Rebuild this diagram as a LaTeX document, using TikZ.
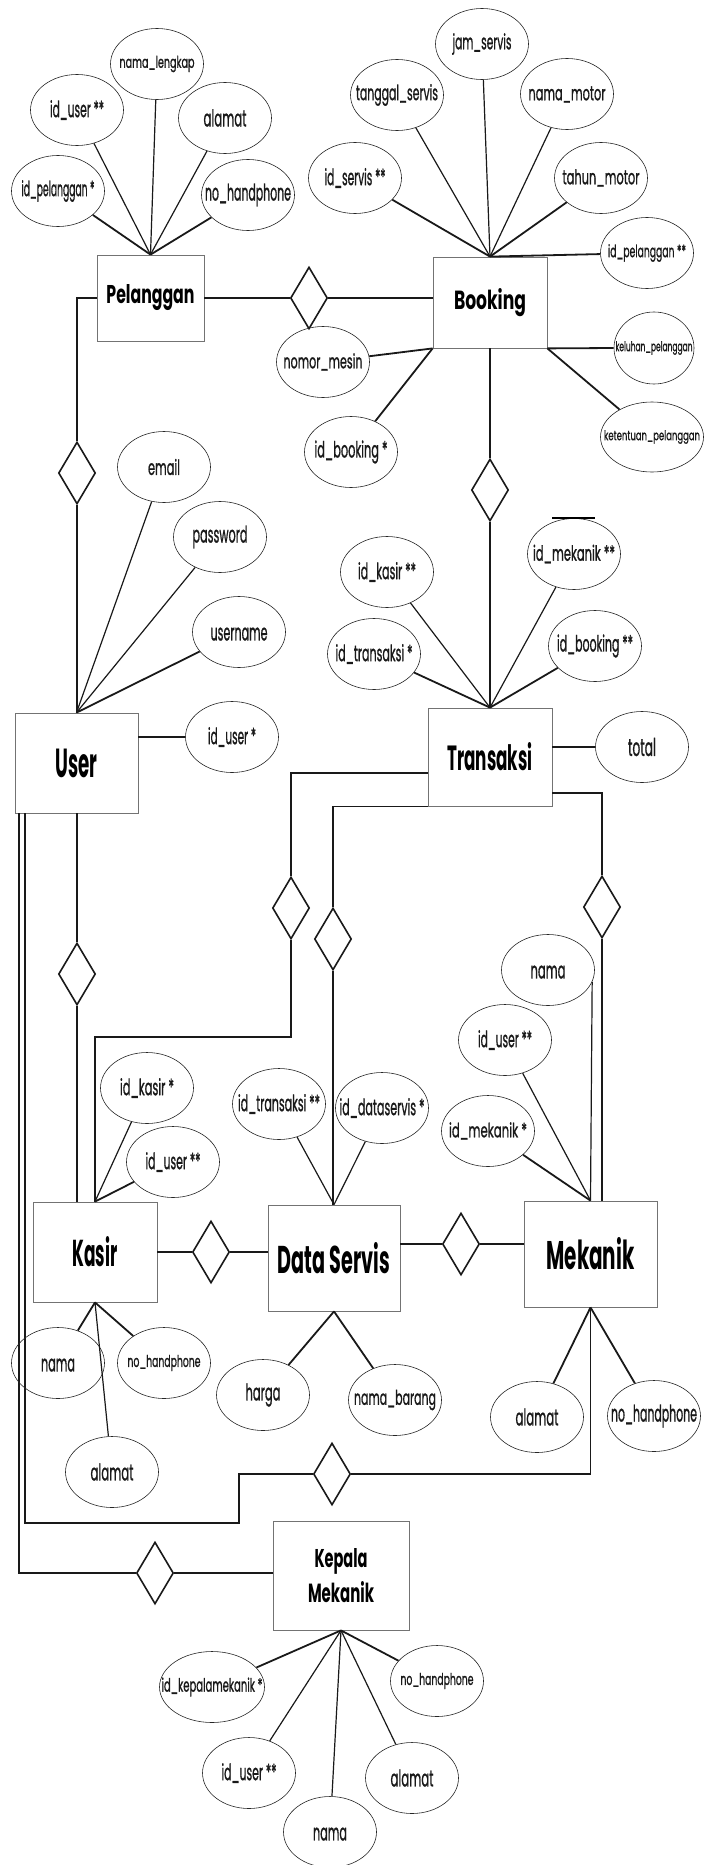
\documentclass[tikz,border=0pt]{standalone}
\usepackage{fontspec}
\setmainfont{Poppins}
\newfontfamily\attrfont{Poppins}[FakeBold=1.3]
\usepackage{graphicx}
\usetikzlibrary{shapes.geometric}
\newcommand\lbl[3]{\resizebox{#1pt}{#2pt}{\attrfont #3\vphantom{d}}}
\newcommand\elbl[3]{\resizebox{#1pt}{#2pt}{\bfseries #3\vphantom{d}}}
\tikzset{
  ent/.style={draw=black!55, line width=0.8pt, fill=white, inner sep=0pt},
  attr/.style={ellipse, draw=black!85, line width=0.6pt, inner sep=0pt,
    minimum width=93pt, minimum height=71pt,
    label={[inner sep=0pt, text=black!90]center:#1}},
  rel/.style={diamond, draw=black!90, line width=1.6pt, inner sep=0pt,
    minimum width=37pt, minimum height=62pt},
  alink/.style={line width=1.2pt, draw=black!90},
  blink/.style={line width=1.8pt, draw=black!90},
  rlink/.style={line width=1.8pt, draw=black!90}
}
\begin{document}
\begin{tikzpicture}[x=1pt,y=-1pt]
\useasboundingbox (0,0) rectangle (720,1865);
% ---------------- entities
\node[ent, minimum width=107pt, minimum height=86pt] (P) at (150.5,298) {\elbl{88}{19}{Pelanggan}};
\node[ent, minimum width=114pt, minimum height=91pt] (B) at (490,302.5) {\elbl{72}{21}{Booking}};
\node[ent, minimum width=123pt, minimum height=100pt] (U) at (76.5,763) {\elbl{42}{30}{User}};
\node[ent, minimum width=124pt, minimum height=98pt] (T) at (490,757) {\elbl{85}{28}{Transaksi}};
\node[ent, minimum width=124pt, minimum height=100pt] (K) at (95,1252) {\elbl{45}{30}{Kasir}};
\node[ent, minimum width=132pt, minimum height=106pt] (DS) at (334,1258) {\elbl{112}{31}{Data Servis}};
\node[ent, minimum width=133pt, minimum height=106pt] (M) at (590.5,1254) {\elbl{88}{32}{Mekanik}};
\node[ent, minimum width=136pt, minimum height=109pt, align=center] (KM) at (341,1575.5) {\elbl{53}{19}{Kepala}\\[6pt]\elbl{66}{21}{Mekanik}};
% ---------------- relationships
\node[rel] (d1) at (309,298) {};
\node[rel] (d2) at (77,473) {};
\node[rel] (d3) at (490,490) {};
\node[rel] (d4) at (77,974) {};
\node[rel] (d5) at (291,908) {};
\node[rel] (d6) at (333,939) {};
\node[rel] (d7) at (602,907) {};
\node[rel] (d8) at (211,1252) {};
\node[rel] (d9) at (461,1244) {};
\node[rel] (d10) at (332,1474) {};
\node[rel] (d11) at (155,1573) {};
\coordinate (u1) at ([xshift=10pt]U.south west);
\coordinate (u2) at ([xshift=4pt]U.south west);
\draw[rlink] (P.east) -- (d1.west);
\draw[rlink] (d1.east) -- (d1.east -| B.west);
\draw[rlink] (P.west) -| (d2.north);
\draw[rlink] (d2.south) -- (d2.south |- U.north);
\draw[rlink] (B.south) -- (d3.north);
\draw[rlink] (d3.south) -- (T.north);
\draw[rlink] (d4.north |- U.south) -- (d4.north);
\draw[rlink] (d4.south) -- (d4.south |- K.north);
\draw[rlink] (T.west |- 0,773) -| (d5.north);
\draw[rlink] (d5.south) |- (K.north |- 0,1037) -- (K.north);
\draw[rlink] (T.south west) -| (d6.north);
\draw[rlink] (d6.south) -- (d6.south |- DS.north);
\draw[rlink] (T.east |- 0,793) -| (d7.north);
\draw[rlink] (d7.south) -- (d7.south |- M.north);
\draw[rlink] (K.east) -- (d8.west);
\draw[rlink] (d8.east) -- (d8.east -| DS.west);
\draw[rlink] (d9.west -| DS.east) -- (d9.west);
\draw[rlink] (d9.east) -- (d9.east -| M.west);
\draw[rlink] (M.south) |- (d10.east);
\draw[rlink] (d10.west) -| (239,1523) -| (u1);
\draw[rlink] (u2) |- (d11.west);
\draw[rlink] (d11.east) -- (d11.east -| KM.west);
% ---------------- Pelanggan attributes
\node[attr={\lbl{75}{12}{nama\_lengkap}}] (pa1) at (157,64) {};
\node[attr={\lbl{54}{17}{id\_user **}}] (pa2) at (77,110) {};
\node[attr={\lbl{43}{17}{alamat}}] (pa3) at (225,118) {};
\node[attr={\lbl{73}{16}{id\_pelanggan *}}] (pa4) at (58,191) {};
\node[attr={\lbl{86}{17}{no\_handphone}}] (pa5) at (248,195) {};
\draw[alink] (pa1) -- (P.north);
\draw[alink] (pa2) -- (P.north);
\draw[alink] (pa3) -- (P.north);
\draw[blink] (pa4) -- (P.north);
\draw[blink] (pa5) -- (P.north);
% ---------------- Booking attributes
\node[attr={\lbl{59}{16}{jam\_servis}}] (ba1) at (482,44) {};
\node[attr={\lbl{82}{16}{tanggal\_servis}}] (ba2) at (397,95) {};
\node[attr={\lbl{77}{15}{nama\_motor}}] (ba3) at (567,94) {};
\node[attr={\lbl{61}{17}{id\_servis **}}] (ba4) at (355,178) {};
\node[attr={\lbl{77}{15}{tahun\_motor}}] (ba5) at (601,178) {};
\node[attr={\lbl{78}{13}{id\_pelanggan **}}] (ba6) at (647,253) {};
\node[attr={\lbl{77}{10}{keluhan\_pelanggan}}, minimum width=80pt, minimum height=72pt] (ba7) at (654,348) {};
\node[attr={\lbl{96}{10}{ketentuan\_pelanggan}}, minimum width=103pt, minimum height=70pt] (ba8) at (652,437) {};
\node[attr={\lbl{79}{15}{nomor\_mesin}}] (ba9) at (323,362) {};
\node[attr={\lbl{73}{17}{id\_booking *}}] (ba10) at (351,452) {};
\draw[alink] (ba1) -- (B.north);
\draw[alink] (ba2) -- (B.north);
\draw[alink] (ba3) -- (B.north);
\draw[blink] (ba4) -- (B.north);
\draw[blink] (ba5) -- (B.north);
\draw[blink] (ba6) -- (B.north);
\draw[blink] (B.south east) -- (ba7.west);
\draw[blink] (ba8) -- (B.south east);
\draw[blink] (ba9) -- (B.south west);
\draw[blink] (ba10) -- (B.south west);
% ---------------- User attributes
\node[attr={\lbl{32}{16}{email}}] (ua1) at (164,467) {};
\node[attr={\lbl{55}{17}{password}}] (ua2) at (220,537) {};
\node[attr={\lbl{57}{17}{username}}] (ua3) at (239,632) {};
\node[attr={\lbl{48}{17}{id\_user *}}] (ua4) at (232,737) {};
\draw[alink] (ua1) -- (U.north);
\draw[alink] (ua2) -- (U.north);
\draw[blink] (ua3) -- (U.north);
\draw[blink] (ua4.west -| U.east) -- (ua4.west);
% ---------------- Transaksi attributes
\node[attr={\lbl{58}{17}{id\_kasir **}}] (ta1) at (387,572) {};
\node[attr={\lbl{82}{16}{id\_mekanik **}}] (ta2) at (574,554) {};
\node[attr={\lbl{77}{17}{id\_transaksi *}}] (ta3) at (374,654) {};
\node[attr={\lbl{76}{17}{id\_booking **}}] (ta4) at (595,646) {};
\node[attr={\lbl{28}{18}{total}}] (ta5) at (642,747) {};
\draw[line width=2pt] ([xshift=-22pt]ta2.north) -- ([xshift=21pt]ta2.north);
\draw[alink] (ta1) -- (T.north);
\draw[alink] (ta2) -- (T.north);
\draw[blink] (ta3) -- (T.north);
\draw[blink] (ta4) -- (T.north);
\draw[blink] (ta5.west -| T.east) -- (ta5.west);
% ---------------- Kasir attributes
\node[attr={\lbl{54}{17}{id\_kasir *}}] (ka1) at (147,1088) {};
\node[attr={\lbl{55}{17}{id\_user **}}] (ka2) at (173,1162) {};
\node[attr={\lbl{34}{17}{nama}}] (ka3) at (58,1363) {};
\node[attr={\lbl{73}{12}{no\_handphone}}] (ka4) at (164,1363) {};
\node[attr={\lbl{43}{17}{alamat}}] (ka5) at (112,1472) {};
\draw[alink] (ka1) -- (K.north);
\draw[blink] (ka2) -- (K.north);
\draw[blink] (ka3) -- (K.south);
\draw[blink] (ka4) -- (K.south);
\draw[alink] (ka5) -- (K.south);
% ---------------- Data Servis attributes
\node[attr={\lbl{82}{17}{id\_transaksi **}}] (da1) at (279,1104) {};
\node[attr={\lbl{85}{17}{id\_dataservis *}}] (da2) at (382,1108) {};
\node[attr={\lbl{35}{17}{harga}}] (da3) at (263,1395) {};
\node[attr={\lbl{82}{15}{nama\_barang}}] (da4) at (395,1400) {};
\draw[alink] (da1) -- (DS.north);
\draw[alink] (da2) -- (DS.north);
\draw[blink] (da3) -- (DS.south);
\draw[blink] (da4) -- (DS.south);
% ---------------- Mekanik attributes
\node[attr={\lbl{35}{17}{nama}}] (ma1) at (548,970) {};
\node[attr={\lbl{54}{17}{id\_user **}}] (ma2) at (505,1040) {};
\node[attr={\lbl{78}{15}{id\_mekanik *}}] (ma3) at (488,1131) {};
\node[attr={\lbl{43}{17}{alamat}}] (ma4) at (537,1417) {};
\node[attr={\lbl{86}{17}{no\_handphone}}] (ma5) at (654,1416) {};
\draw[alink] (ma1.-15) -- (M.north);
\draw[alink] (ma2) -- (M.north);
\draw[blink] (ma3) -- (M.north);
\draw[blink] (ma4) -- (M.south);
\draw[blink] (ma5) -- (M.south);
% ---------------- Kepala Mekanik attributes
\node[attr={\lbl{101}{14}{id\_kepalamekanik *}}, minimum width=105pt] (kma1) at (212,1687) {};
\node[attr={\lbl{73}{12}{no\_handphone}}] (kma2) at (437,1681) {};
\node[attr={\lbl{55}{17}{id\_user **}}] (kma3) at (249,1773) {};
\node[attr={\lbl{43}{17}{alamat}}] (kma4) at (412,1778) {};
\node[attr={\lbl{34}{17}{nama}}] (kma5) at (330,1832) {};
\draw[blink] (kma1) -- (KM.south);
\draw[blink] (kma2) -- (KM.south);
\draw[alink] (kma3) -- (KM.south);
\draw[alink] (kma4) -- (KM.south);
\draw[alink] (kma5) -- (KM.south);
\end{tikzpicture}
\end{document}
